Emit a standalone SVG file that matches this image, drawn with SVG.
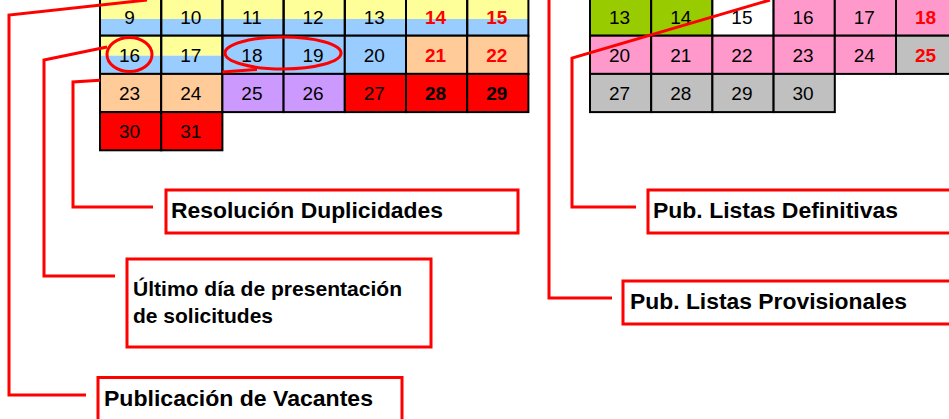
<svg xmlns="http://www.w3.org/2000/svg" width="949" height="419" viewBox="0 0 949 419">
<style>
.c{stroke:#000;stroke-width:2}
.n{font-family:"Liberation Sans",Arial,sans-serif;font-size:19px;text-anchor:middle;fill:#000}
.b{font-weight:bold}
.r{fill:#FF0000}
.lbl{font-family:"Liberation Sans",Arial,sans-serif;font-weight:bold;fill:#000}
.box{fill:#fff;stroke:#FF0000;stroke-width:3}
.con{fill:none;stroke:#FF0000;stroke-width:3}
.yl{fill:#FFFF99}.bl{fill:#99CCFF}.pe{fill:#FFCC99}.pu{fill:#CC99FF}.rd{fill:#FF0000}.gr{fill:#99CC00}.pk{fill:#FF99CC}.gy{fill:#C0C0C0}.wh{fill:#FFFFFF}
</style>

<g id="calendar-left">
  <g id="row1-left">
    <rect x="100" y="-2.5" width="428.4" height="21.5" class="yl"/>
    <rect x="100" y="19" width="428.4" height="16.7" class="bl"/>
    <rect x="100" y="-2.5" width="61.2" height="38.2" class="c" fill="none"/>
    <rect x="161.2" y="-2.5" width="61.2" height="38.2" class="c" fill="none"/>
    <rect x="222.4" y="-2.5" width="61.2" height="38.2" class="c" fill="none"/>
    <rect x="283.6" y="-2.5" width="61.2" height="38.2" class="c" fill="none"/>
    <rect x="344.8" y="-2.5" width="61.2" height="38.2" class="c" fill="none"/>
    <rect x="406" y="-2.5" width="61.2" height="38.2" class="c" fill="none"/>
    <rect x="467.2" y="-2.5" width="61.2" height="38.2" class="c" fill="none"/>
    <text x="129.5" y="23.5" class="n">9</text>
    <text x="190.7" y="23.5" class="n">10</text>
    <text x="251.9" y="23.5" class="n">11</text>
    <text x="313.1" y="23.5" class="n">12</text>
    <text x="374.3" y="23.5" class="n">13</text>
    <text x="435.5" y="23.5" class="n b r">14</text>
    <text x="496.7" y="23.5" class="n b r">15</text>
  </g>
  <g id="row2-left">
    <rect x="100" y="35.7" width="122.4" height="20" class="yl"/>
    <rect x="100" y="55.7" width="122.4" height="18.2" class="bl"/>
    <rect x="222.4" y="35.7" width="61.2" height="38.2" class="c bl"/>
    <rect x="283.6" y="35.7" width="61.2" height="38.2" class="c bl"/>
    <rect x="344.8" y="35.7" width="61.2" height="38.2" class="c bl"/>
    <rect x="406" y="35.7" width="61.2" height="38.2" class="c pe"/>
    <rect x="467.2" y="35.7" width="61.2" height="38.2" class="c pe"/>
    <rect x="100" y="35.7" width="61.2" height="38.2" class="c" fill="none"/>
    <rect x="161.2" y="35.7" width="61.2" height="38.2" class="c" fill="none"/>
    <text x="129.5" y="61.7" class="n">16</text>
    <text x="190.7" y="61.7" class="n">17</text>
    <text x="251.9" y="61.7" class="n">18</text>
    <text x="313.1" y="61.7" class="n">19</text>
    <text x="374.3" y="61.7" class="n">20</text>
    <text x="435.5" y="61.7" class="n b r">21</text>
    <text x="496.7" y="61.7" class="n b r">22</text>
  </g>
  <g id="row3-left">
    <rect x="100" y="73.9" width="61.2" height="38.2" class="c pe"/>
    <rect x="161.2" y="73.9" width="61.2" height="38.2" class="c pe"/>
    <rect x="222.4" y="73.9" width="61.2" height="38.2" class="c pu"/>
    <rect x="283.6" y="73.9" width="61.2" height="38.2" class="c pu"/>
    <rect x="344.8" y="73.9" width="61.2" height="38.2" class="c rd"/>
    <rect x="406" y="73.9" width="61.2" height="38.2" class="c rd"/>
    <rect x="467.2" y="73.9" width="61.2" height="38.2" class="c rd"/>
    <text x="129.5" y="100" class="n">23</text>
    <text x="190.7" y="100" class="n">24</text>
    <text x="251.9" y="100" class="n">25</text>
    <text x="313.1" y="100" class="n">26</text>
    <text x="374.3" y="100" class="n">27</text>
    <text x="435.5" y="100" class="n b">28</text>
    <text x="496.7" y="100" class="n b">29</text>
  </g>
  <g id="row4-left">
    <rect x="100" y="112.1" width="61.2" height="38.2" class="c rd"/>
    <rect x="161.2" y="112.1" width="61.2" height="38.2" class="c rd"/>
    <text x="129.5" y="138.2" class="n">30</text>
    <text x="190.7" y="138.2" class="n">31</text>
  </g>
</g>

<g id="calendar-right">
  <g id="row1-right">
    <rect x="590" y="-2.5" width="61.2" height="38.2" class="c gr"/>
    <rect x="651.2" y="-2.5" width="61.2" height="38.2" class="c gr"/>
    <rect x="712.4" y="-2.5" width="61.2" height="38.2" class="c wh"/>
    <rect x="773.6" y="-2.5" width="61.2" height="38.2" class="c pk"/>
    <rect x="834.8" y="-2.5" width="61.2" height="38.2" class="c pk"/>
    <rect x="896" y="-2.5" width="61.2" height="38.2" class="c pk"/>
    <text x="619.5" y="23.5" class="n">13</text>
    <text x="680.7" y="23.5" class="n">14</text>
    <text x="741.9" y="23.5" class="n">15</text>
    <text x="803.1" y="23.5" class="n">16</text>
    <text x="864.3" y="23.5" class="n">17</text>
    <text x="925.5" y="23.5" class="n b r">18</text>
  </g>
  <g id="row2-right">
    <rect x="590" y="35.7" width="61.2" height="38.2" class="c pk"/>
    <rect x="651.2" y="35.7" width="61.2" height="38.2" class="c pk"/>
    <rect x="712.4" y="35.7" width="61.2" height="38.2" class="c pk"/>
    <rect x="773.6" y="35.7" width="61.2" height="38.2" class="c pk"/>
    <rect x="834.8" y="35.7" width="61.2" height="38.2" class="c pk"/>
    <rect x="896" y="35.7" width="61.2" height="38.2" class="c gy"/>
    <text x="619.5" y="61.7" class="n">20</text>
    <text x="680.7" y="61.7" class="n">21</text>
    <text x="741.9" y="61.7" class="n">22</text>
    <text x="803.1" y="61.7" class="n">23</text>
    <text x="864.3" y="61.7" class="n">24</text>
    <text x="925.5" y="61.7" class="n b r">25</text>
  </g>
  <g id="row3-right">
    <rect x="590" y="73.9" width="61.2" height="38.2" class="c gy"/>
    <rect x="651.2" y="73.9" width="61.2" height="38.2" class="c gy"/>
    <rect x="712.4" y="73.9" width="61.2" height="38.2" class="c gy"/>
    <rect x="773.6" y="73.9" width="61.2" height="38.2" class="c gy"/>
    <text x="619.5" y="100" class="n">27</text>
    <text x="680.7" y="100" class="n">28</text>
    <text x="741.9" y="100" class="n">29</text>
    <text x="803.1" y="100" class="n">30</text>
  </g>
</g>

<g id="connectors">
  <path class="con" d="M147,0 L9,15 L9,395 L86,395"/>
  <path class="con" d="M107,47 L44,60 L44,276 L115,276"/>
  <path class="con" d="M257,69.5 L222.4,72 M100,80.2 L73,82 L73,207 L153,207"/>
  <path class="con" d="M770,0 L572,58 L572,207 L636,207"/>
  <path class="con" d="M549,0 L549,298 L612,298"/>
  <ellipse class="con" cx="129.5" cy="54.5" rx="22.5" ry="17" stroke-width="3.5"/>
  <ellipse class="con" cx="283" cy="53" rx="58" ry="16" stroke-width="3.5"/>
</g>

<g id="node-resolucion">
  <rect class="box" x="166" y="190" width="352" height="43"/>
  <text class="lbl" x="171" y="218" font-size="22" textLength="272" lengthAdjust="spacingAndGlyphs">Resolución Duplicidades</text>
</g>
<g id="node-ultimo">
  <rect class="box" x="127" y="259" width="304" height="88"/>
  <text class="lbl" x="133" y="296" font-size="21" textLength="269" lengthAdjust="spacingAndGlyphs">Último día de presentación</text>
  <text class="lbl" x="133" y="323" font-size="21">de solicitudes</text>
</g>
<g id="node-publicacion">
  <rect class="box" x="98" y="377.5" width="304" height="50"/>
  <text class="lbl" x="104" y="406" font-size="22" textLength="269" lengthAdjust="spacingAndGlyphs">Publicación de Vacantes</text>
</g>
<g id="node-definitivas">
  <rect class="box" x="648" y="190" width="320" height="43"/>
  <text class="lbl" x="653" y="218" font-size="22" textLength="245" lengthAdjust="spacingAndGlyphs">Pub. Listas Definitivas</text>
</g>
<g id="node-provisionales">
  <rect class="box" x="623" y="281" width="340" height="43"/>
  <text class="lbl" x="630" y="309" font-size="22" textLength="277" lengthAdjust="spacingAndGlyphs">Pub. Listas Provisionales</text>
</g>
</svg>
